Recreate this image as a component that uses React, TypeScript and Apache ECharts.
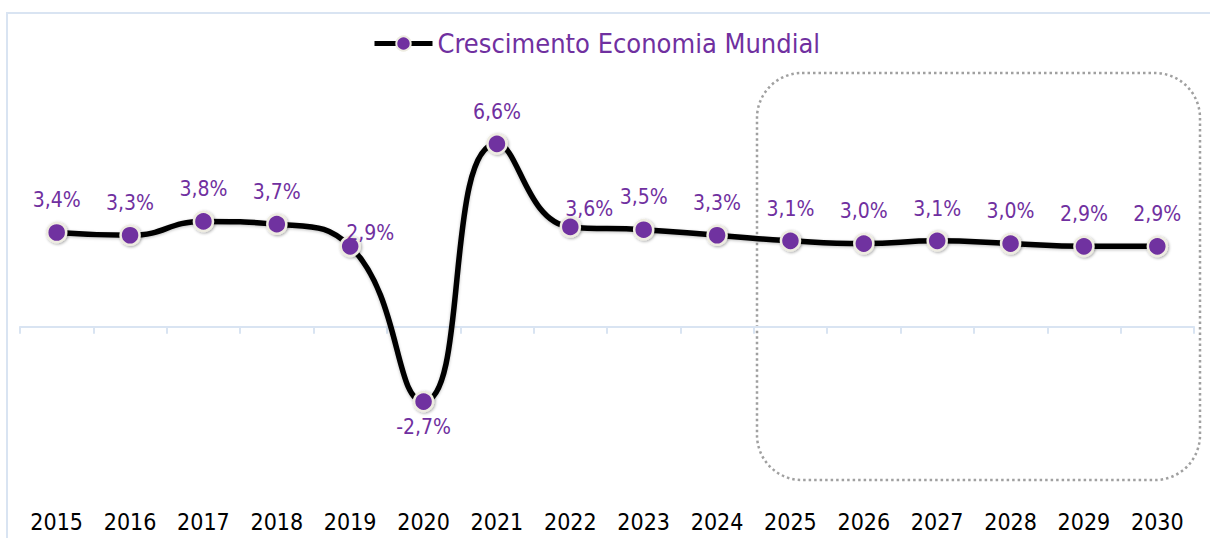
import React, { useEffect, useRef } from "react";
import * as echarts from "echarts";

const years = ["2015", "2016", "2017", "2018", "2019", "2020", "2021", "2022", "2023", "2024", "2025", "2026", "2027", "2028", "2029", "2030"];
const growth = [3.4, 3.3, 3.8, 3.7, 2.9, -2.7, 6.6, 3.6, 3.5, 3.3, 3.1, 3.0, 3.1, 3.0, 2.9, 2.9];
const seriesName = "Crescimento Economia Mundial";

const FONT = "'DejaVu Sans Condensed', 'DejaVu Sans', sans-serif";
const PURPLE = "#7030A0";

export default function App() {
  const ref = useRef<HTMLDivElement>(null);
  useEffect(() => {
    if (!ref.current) return;
    const chart = echarts.init(ref.current, null, { renderer: "svg" });
    const data = growth.map((v, i) => {
      const item: any = { value: v };
      if (years[i] === "2019") item.label = { position: "inside", offset: [20, -13] };
      if (years[i] === "2020") item.label = { position: "bottom", distance: 4 };
      if (years[i] === "2022") item.label = { position: "inside", offset: [19, -18] };
      return item;
    });
    chart.setOption({
      animation: false,
      backgroundColor: "#fff",
      textStyle: { fontFamily: FONT },
      legend: {
        left: 372,
        top: 30,
        padding: 0,
        itemWidth: 58,
        itemHeight: 18,
        lineStyle: { width: 5, color: "#000" },
        textStyle: { color: PURPLE, fontSize: 27, fontFamily: FONT },
        data: [seriesName],
      },
      grid: { left: 20, right: 16, top: 105, bottom: 45, containLabel: false },
      xAxis: [
        {
          type: "category",
          data: years,
          boundaryGap: true,
          axisLine: { show: true, onZero: true, lineStyle: { color: "#D9E4F2", width: 2 } },
          axisTick: { show: true, length: 7, lineStyle: { color: "#D9E4F2", width: 2 } },
          axisLabel: { show: false },
          splitLine: { show: false },
        },
        {
          type: "category",
          data: years,
          position: "bottom",
          boundaryGap: true,
          axisLine: { show: false, onZero: false },
          axisTick: { show: false },
          axisLabel: { show: true, color: "#000", fontSize: 23, fontFamily: FONT, margin: 17 },
          splitLine: { show: false },
        },
      ],
      yAxis: { type: "value", min: -6, max: 8, show: false, splitLine: { show: false } },
      graphic: [
        {
          type: "rect",
          z: -10,
          shape: { x: 7, y: 13, width: 1300, height: 600 },
          style: { fill: "none", stroke: "#D9E4F2", lineWidth: 2 },
          silent: true,
        },
        {
          type: "rect",
          z: -5,
          shape: { x: 757, y: 73, width: 443, height: 407, r: 45 },
          style: { fill: "none", stroke: "#A0A0A0", lineWidth: 2.5, lineDash: [2.5, 3] },
          silent: true,
        },
      ],
      series: [
        {
          name: seriesName,
          type: "line",
          xAxisIndex: 0,
          data,
          smooth: 0.5,
          symbol: "circle",
          symbolSize: 19,
          lineStyle: { color: "#000", width: 5.5, shadowBlur: 3, shadowColor: "rgba(0,0,0,0.25)", shadowOffsetY: 1 },
          itemStyle: {
            color: PURPLE,
            borderColor: "#EEECE1",
            borderWidth: 2.5,
            shadowBlur: 3,
            shadowColor: "rgba(0,0,0,0.35)",
            shadowOffsetX: 1,
            shadowOffsetY: 1,
          },
          label: {
            show: true,
            position: "top",
            distance: 11,
            color: PURPLE,
            fontSize: 21,
            fontFamily: FONT,
            formatter: (p: any) => p.value.toFixed(1).replace(".", ",") + "%",
          },
        },
      ],
    });
    return () => chart.dispose();
  }, []);
  return <div ref={ref} style={{ position: "absolute", left: 0, top: 0, width: 1210, height: 538 }} />;
}
